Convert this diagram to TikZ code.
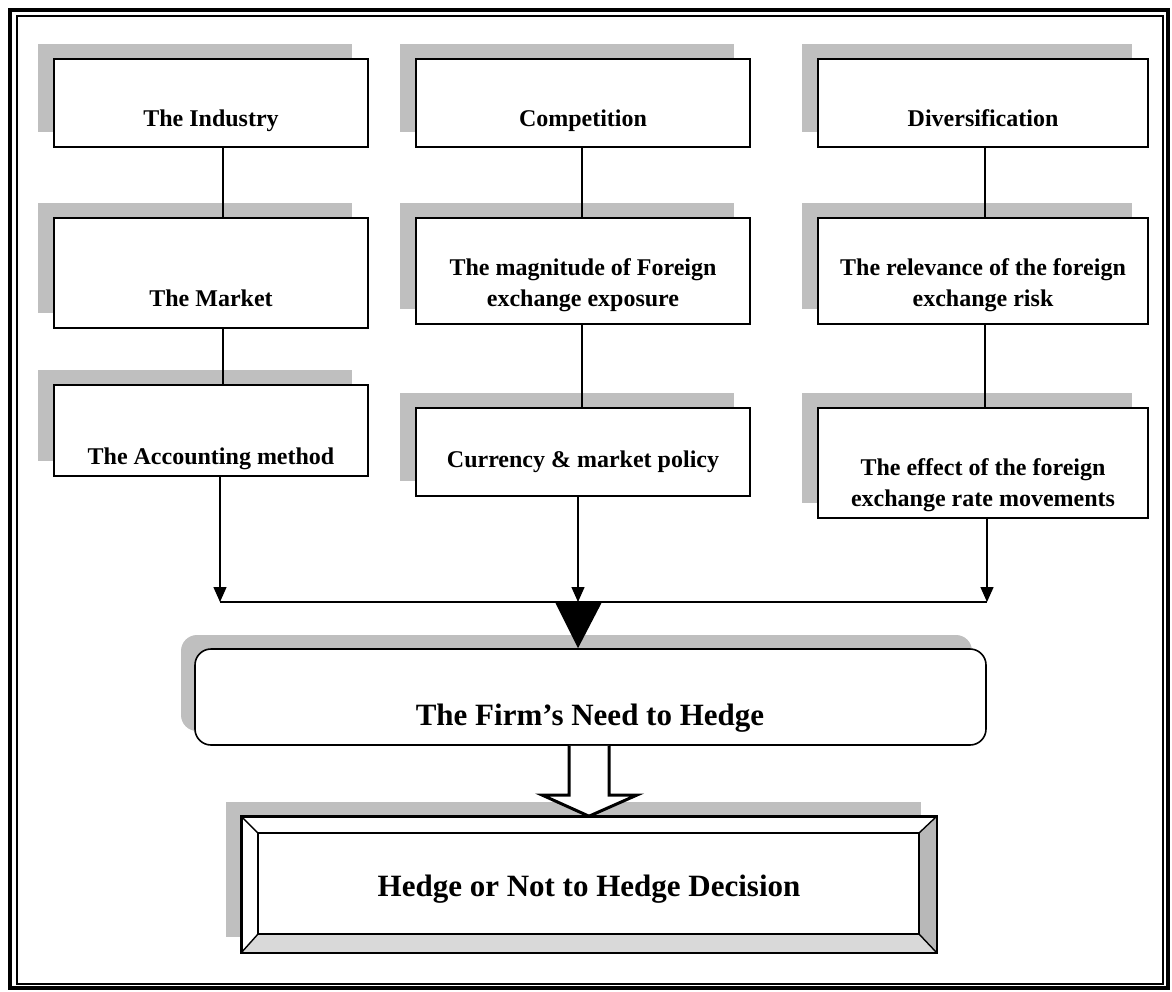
\documentclass[tikz,border=0pt]{standalone}
\usepackage{fontspec}
\setmainfont{Liberation Serif}
\usetikzlibrary{arrows.meta,shadows,calc}
\begin{document}
\begin{tikzpicture}[x=1pt,y=-1pt,
  shade/.style={fill=black!25},
  box/.style={draw, line width=1.6pt, fill=white, rectangle, inner sep=0pt,
    general shadow={shade, shadow xshift=-16pt, shadow yshift=15pt}},
  lbl/.style={font=\fontsize{24}{31}\selectfont\bfseries, align=center,
    inner sep=0pt, anchor=base},
  biglbl/.style={font=\fontsize{31}{36}\selectfont\bfseries, inner sep=0pt,
    anchor=base},
  link/.style={line width=1.4pt},
  flow/.style={line width=1.4pt, -{Triangle[width=13pt,length=15pt]}},
]
\useasboundingbox (0,0) rectangle (1172,991);

% double frame: heavy outer rule with a thin rule just inside
\draw[line width=4.5pt] (10,10) rectangle (1168,988);
\draw[line width=1.3pt] (17,16) rectangle (1163,984);

% column x positions of the connectors
\coordinate (c1) at (223,0);
\coordinate (c2) at (582,0);
\coordinate (c3) at (985,0);
\coordinate (a1) at (220,602);
\coordinate (a2) at (578,602);
\coordinate (a3) at (987,602);

% first column
\node[box, minimum width=314pt, minimum height=88pt]  (ind) at (211,103) {};
\node[box, minimum width=314pt, minimum height=110pt] (mkt) at (211,273) {};
\node[box, minimum width=314pt, minimum height=91pt]  (acc) at (211,430.5) {};
% second column
\node[box, minimum width=334pt, minimum height=88pt]  (comp) at (583,103) {};
\node[box, minimum width=334pt, minimum height=106pt] (mag) at (583,271) {};
\node[box, minimum width=334pt, minimum height=88pt]  (cur) at (583,452) {};
% third column
\node[box, minimum width=330pt, minimum height=88pt]  (div) at (983,103) {};
\node[box, minimum width=330pt, minimum height=106pt] (rel) at (983,271) {};
\node[box, minimum width=330pt, minimum height=110pt] (eff) at (983,463) {};

% box texts (base = baseline of the last line)
\node[lbl] (indT)  at (211,126) {The Industry};
\node[lbl] (mktT)  at (211,306) {The Market};
\node[lbl] (accT)  at (211,464) {The Accounting method};
\node[lbl] (compT) at (583,126) {Competition};
\node[lbl] (magT)  at (583,306) {The magnitude of Foreign\\exchange exposure};
\node[lbl] (curT)  at (583,467) {Currency \& market policy};
\node[lbl] (divT)  at (983,126) {Diversification};
\node[lbl] (relT)  at (983,306) {The relevance of the foreign\\exchange risk};
\node[lbl] (effT)  at (983,506) {The effect of the foreign\\exchange rate movements};

% vertical links inside the columns
\draw[link] (ind.south -| c1) -- (mkt.north -| c1);
\draw[link] (mkt.south -| c1) -- (acc.north -| c1);
\draw[link] (comp.south -| c2) -- (mag.north -| c2);
\draw[link] (mag.south -| c2) -- (cur.north -| c2);
\draw[link] (div.south -| c3) -- (rel.north -| c3);
\draw[link] (rel.south -| c3) -- (eff.north -| c3);

% arrows down to the collecting line
\draw[flow] (acc.south -| a1) -- (a1);
\draw[flow] (cur.south -| a2) -- (a2);
\draw[flow] (eff.south -| a3) -- (a3);
\draw[link] (a1) -- (a3);

% the firm's need to hedge
\node[draw, line width=1.6pt, fill=white, rounded corners=16pt, inner sep=0pt,
  minimum width=791pt, minimum height=96pt,
  general shadow={shade, shadow xshift=-14pt, shadow yshift=14pt}]
  (firm) at (590.5,697) {};
\node[biglbl] (firmT) at (590,725) {The Firm’s Need to Hedge};

% big black arrow head into the firm box
\fill ([xshift=-23pt]a2) -- ([xshift=24pt]a2) -- (firm.north -| a2) -- cycle;

% bevelled decision box
\node[box, minimum width=694pt, minimum height=135pt,
  general shadow={shade, shadow xshift=-15pt, shadow yshift=15pt}]
  (hedge) at (589,884.5) {};
\coordinate (hnw) at ([shift={(17pt,-17pt)}]hedge.north west);
\coordinate (hne) at ([shift={(-18pt,-17pt)}]hedge.north east);
\coordinate (hsw) at ([shift={(17pt,19pt)}]hedge.south west);
\coordinate (hse) at ([shift={(-18pt,19pt)}]hedge.south east);
\fill[black!15] (hedge.south west) -- (hsw) -- (hse) -- (hedge.south east) -- cycle;
\fill[black!28] (hedge.south east) -- (hse) -- (hne) -- (hedge.north east) -- cycle;
\draw[line width=1.6pt] (hnw) rectangle (hse);
\draw[line width=1.4pt] (hedge.north west) -- (hnw) (hedge.north east) -- (hne)
  (hedge.south west) -- (hsw) (hedge.south east) -- (hse);
\draw[line width=1.6pt] (hedge.north west) rectangle (hedge.south east);
\node[biglbl] (hedgeT) at (589,896) {Hedge or Not to Hedge Decision};

% hollow block arrow from the firm box to the decision box
\coordinate (ha) at (589,0);
\draw[line width=3pt, fill=white, line join=miter]
  ([xshift=-20pt]firm.south -| ha) -- ([xshift=-20pt]ha |- 0,795)
  -- ([xshift=-47pt]ha |- 0,795) -- (hedge.north -| ha)
  -- ([xshift=48pt]ha |- 0,795) -- ([xshift=20pt]ha |- 0,795)
  -- ([xshift=20pt]firm.south -| ha);
\end{tikzpicture}
\end{document}
